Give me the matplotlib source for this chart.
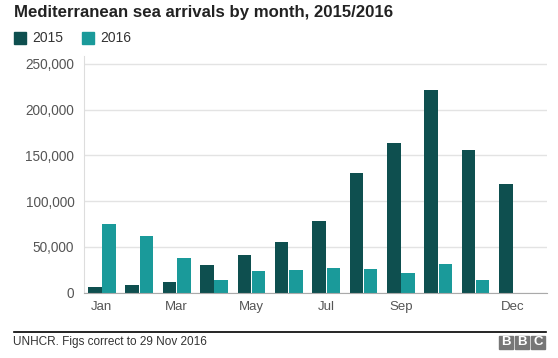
import numpy as np
import matplotlib
matplotlib.use("Agg")
import matplotlib.pyplot as plt
from matplotlib.patches import Rectangle
from matplotlib.ticker import FuncFormatter

# Monthly arrivals
months = ['Jan', 'Feb', 'Mar', 'Apr', 'May', 'Jun',
          'Jul', 'Aug', 'Sep', 'Oct', 'Nov', 'Dec']
arrivals_2015 = [6200, 8000, 11500, 30500, 40800, 55500,
                 78500, 130500, 163500, 221500, 155500, 119000]
arrivals_2016 = [74500, 61500, 37800, 14000, 23000, 25000,
                 26500, 25500, 21500, 30800, 13500, 0]
shown_months = ['Jan', 'Mar', 'May', 'Jul', 'Sep', 'Dec']
yticks = [0, 50000, 100000, 150000, 200000, 250000]

c2015 = '#0e4f4f'
c2016 = '#1a9a9a'
grey = '#555555'

plt.rcParams['font.family'] = ['Liberation Sans', 'DejaVu Sans']

fig = plt.figure(figsize=(5.58, 3.58), dpi=100)
ax = fig.add_axes([84/558, 65.5/358, 463/558, (292.5-56)/358])

x = np.arange(len(months))
w = 0.36
ax.bar(x - 0.19, arrivals_2015, width=w, color=c2015, zorder=3)
ax.bar(x + 0.19, arrivals_2016, width=w, color=c2016, zorder=3)

ax.set_xlim(-0.48, 11.91)
ax.set_ylim(0, 258700)
ax.set_yticks(yticks)
ax.yaxis.set_major_formatter(FuncFormatter(lambda v, p: f'{int(v):,}'))
ax.set_xticks([months.index(m) for m in shown_months])
ax.set_xticklabels(shown_months)
ax.tick_params(axis='both', length=0, labelcolor=grey)
ax.tick_params(axis='y', pad=7, labelsize=9.8)
ax.tick_params(axis='x', pad=6, labelsize=9.5)
ax.grid(axis='y', color='#e3e3e3', linewidth=1, zorder=0)
for s in ['top', 'right']:
    ax.spines[s].set_visible(False)
ax.spines['left'].set_color('#dddddd')
ax.spines['bottom'].set_color('#aaaaaa')
ax.spines['bottom'].set_zorder(4)

# title and legend
fig.text(14/558, 1 - 17.5/358, 'Mediterranean sea arrivals by month, 2015/2016',
         fontsize=12.1, fontweight='bold', color='#222222', va='baseline')
fig.patches.append(Rectangle((14/558, 1 - 44/358), 12/558, 12/358,
                             transform=fig.transFigure, color=c2015))
fig.text(32/558, 1 - 38/358, '2015', fontsize=10, color='#333333', va='center')
fig.patches.append(Rectangle((82/558, 1 - 44/358), 12/558, 12/358,
                             transform=fig.transFigure, color=c2016))
fig.text(100/558, 1 - 38/358, '2016', fontsize=10, color='#333333', va='center')

# footer
fig.add_artist(plt.Line2D([14/558, 546/558], [1 - 331.5/358, 1 - 331.5/358],
                          transform=fig.transFigure, color='black', linewidth=1.2))
fig.text(13/558, 1 - 341.5/358, 'UNHCR. Figs correct to 29 Nov 2016',
         fontsize=8.5, color='#333333', va='center')
for i, letter in enumerate('BBC'):
    x0 = 499 + i * 16
    fig.patches.append(Rectangle((x0/558, 1 - 348.5/358), 14/558, 13/358,
                                 transform=fig.transFigure, color='#777777'))
    fig.text((x0 + 7)/558, 1 - 342/358, letter, fontsize=9.5, fontweight='bold',
             color='white', ha='center', va='center')

fig.savefig('out.png', dpi=100, facecolor='white')
